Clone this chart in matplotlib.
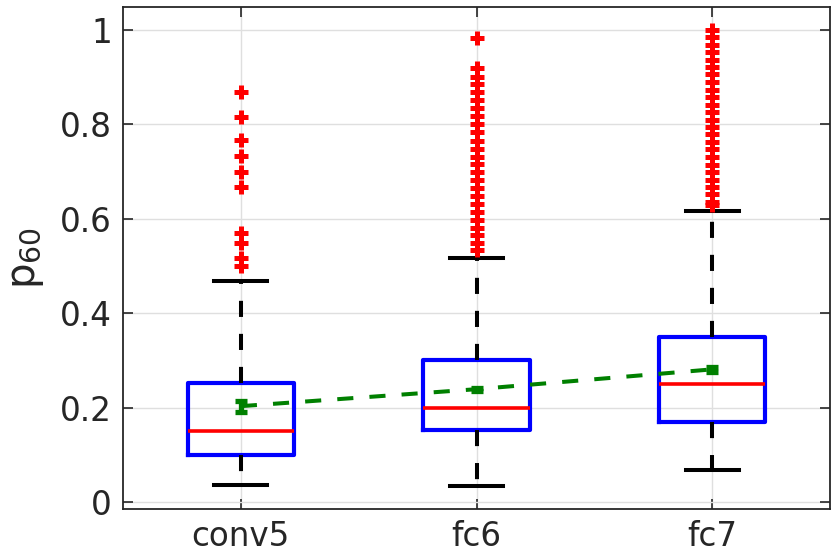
import matplotlib
matplotlib.use('Agg')
import matplotlib.pyplot as plt

# data
categories = ['conv5', 'fc6', 'fc7']
medians = [0.15, 0.20, 0.25]
q1 = [0.10, 0.152, 0.169]
q3 = [0.252, 0.301, 0.35]
whisker_lo = [0.035, 0.034, 0.068]
whisker_hi = [0.468, 0.517, 0.617]
means = [0.203, 0.239, 0.281]
mean_err = [0.012, 0.003, 0.006]

fliers_conv5 = [0.868, 0.816, 0.768, 0.734, 0.70, 0.667, 0.569, 0.549, 0.518, 0.501]
fliers_fc6 = [0.984, 0.919, 0.901, 0.885, 0.868, 0.851, 0.834, 0.817, 0.800, 0.783,
              0.766, 0.749, 0.732, 0.717, 0.700, 0.683, 0.666, 0.649, 0.632, 0.615,
              0.598, 0.581, 0.566, 0.549, 0.534]
fliers_fc7 = [1.0, 0.985, 0.969, 0.953, 0.937, 0.922, 0.906, 0.890, 0.874, 0.858,
              0.842, 0.826, 0.810, 0.795, 0.779, 0.763, 0.747, 0.731, 0.715, 0.699,
              0.683, 0.667, 0.652, 0.636, 0.629]
fliers = [fliers_conv5, fliers_fc6, fliers_fc7]

ytick_vals = [0, 0.2, 0.4, 0.6, 0.8, 1]
ytick_labels = ['0', '0.2', '0.4', '0.6', '0.8', '1']

txt = '#262626'
plt.rcParams['font.family'] = ['DejaVu Sans']

fig = plt.figure(figsize=(8.37, 5.59), dpi=100)
ax = fig.add_axes([0.147, 0.0894, 0.8446, 0.8981])

stats = []
for i, name in enumerate(categories):
    stats.append({
        'label': name,
        'med': medians[i],
        'q1': q1[i],
        'q3': q3[i],
        'whislo': whisker_lo[i],
        'whishi': whisker_hi[i],
        'fliers': fliers[i],
    })

positions = list(range(1, len(categories) + 1))
ax.bxp(stats, positions=positions, widths=0.45, showfliers=True,
       boxprops=dict(color='#0000ff', linewidth=3.0),
       medianprops=dict(color='#ff0000', linewidth=2.6),
       whiskerprops=dict(color='black', linewidth=2.9, linestyle=(0, (4.0, 4.2))),
       capprops=dict(color='black', linewidth=2.9),
       capwidths=0.225,
       flierprops=dict(marker='+', markeredgecolor='#ff0000', markersize=10,
                       markeredgewidth=3.6, linestyle='none'),
       zorder=3)

# mean line with error bars
ax.errorbar(positions, means, yerr=mean_err, color='#008000', linewidth=2.9,
            linestyle=(0, (4.0, 4.0)), elinewidth=3.8, capsize=4, capthick=3.8,
            zorder=4)

ax.set_xlim(0.5, 3.5)
ax.set_ylim(-0.015, 1.049)
ax.set_yticks(ytick_vals)
ax.set_yticklabels(ytick_labels)
ax.set_xticks(positions)
ax.set_xticklabels(categories)

ax.grid(True, color='#dfdfdf', linewidth=1.0, zorder=0)
ax.set_axisbelow(True)
ax.tick_params(direction='in', length=7, width=1.2, colors=txt, labelsize=23.5,
               top=True, right=True, pad=8)
for sp in ax.spines.values():
    sp.set_color(txt)
    sp.set_linewidth(1.3)

ax.set_ylabel(r'p$_{60}$', fontsize=29, color=txt, labelpad=10)

fig.savefig('out.png', dpi=100)
